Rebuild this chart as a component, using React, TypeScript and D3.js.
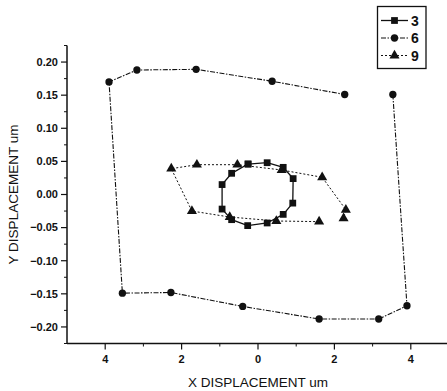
import React from "react";
import * as d3 from "d3";

const xTicks = [-4, -2, 0, 2, 4];
const xMinor = [-3, -1, 1, 3];
const yTicks = [-0.2, -0.15, -0.1, -0.05, 0, 0.05, 0.1, 0.15, 0.2];
const yMinor = [-0.225, -0.175, -0.125, -0.075, -0.025, 0.025, 0.075, 0.125, 0.175, 0.225];

const s3x = [-0.26, 0.24, 0.66, 0.92, 0.91, 0.66, 0.24, -0.27, -0.69, -0.94, -0.94, -0.69, -0.26];
const s3y = [0.046, 0.048, 0.041, 0.024, -0.013, -0.03, -0.043, -0.047, -0.038, -0.022, 0.015, 0.032, 0.046];

const s6x = [3.53, 3.9, 3.16, 1.6, -0.4, -2.28, -3.55, -3.9, -3.17, -1.62, 0.37, 2.27];
const s6y = [0.151, -0.168, -0.188, -0.188, -0.169, -0.148, -0.149, 0.17, 0.188, 0.189, 0.171, 0.151];

const s9x = [1.6, 0.48, -0.74, -1.73, -2.27, -1.6, -0.54, 0.62, 1.68, 2.3, 2.24];
const s9y = [-0.041, -0.04, -0.034, -0.025, 0.039, 0.045, 0.045, 0.037, 0.026, -0.023, -0.036];

const seriesNames = ["3", "6", "9"];

const W = 447;
const H = 391;
const INK = "#111";
const FONT = "Arial, 'Liberation Sans', sans-serif";

const x = d3.scaleLinear().domain([-5, 5]).range([67, 449]);
const y = d3.scaleLinear().domain([-0.225, 0.225]).range([343.5, 45.5]);

const line = d3
  .line<[number, number]>()
  .x((d) => x(d[0]))
  .y((d) => y(d[1]));

function zip(a: number[], b: number[]): [number, number][] {
  return a.map((v, i) => [v, b[i]]);
}

const sym = {
  square: d3.symbol().type(d3.symbolSquare).size(46)(),
  circle: d3.symbol().type(d3.symbolCircle).size(42)(),
  triangle: d3.symbol().type(d3.symbolTriangle).size(44)(),
};

const series = [
  { name: seriesNames[0], pts: zip(s3x, s3y), marker: sym.square, dash: "none", width: 1.3 },
  { name: seriesNames[1], pts: zip(s6x, s6y), marker: sym.circle, dash: "5,1.5,1.5,1.5", width: 1.1 },
  { name: seriesNames[2], pts: zip(s9x, s9y), marker: sym.triangle, dash: "2,2", width: 1.0 },
];

export default function App() {
  const fmtY = d3.format(".2f");
  const legendY = [20.5, 38, 55.5];
  return (
    <svg
      width={W}
      height={H}
      style={{ position: "absolute", left: 0, top: 0, background: "#fff" }}
      fontFamily={FONT}
    >
      <rect x={0} y={0} width={W} height={H} fill="#fff" />
      {/* axes lines */}
      <line x1={x(-5)} x2={x(-5)} y1={y(0.225)} y2={y(-0.225)} stroke={INK} strokeWidth={1.5} />
      <line x1={x(-5)} x2={W} y1={y(-0.225)} y2={y(-0.225)} stroke={INK} strokeWidth={1.5} />
      {/* y ticks */}
      {yTicks.map((t) => (
        <g key={"yt" + t}>
          <line x1={x(-5) - 6} x2={x(-5)} y1={y(t)} y2={y(t)} stroke={INK} strokeWidth={1.2} />
          <text
            x={x(-5) - 9}
            y={y(t)}
            dy="0.35em"
            textAnchor="end"
            fontSize={11}
            fontWeight="bold"
            fill={INK}
          >
            {fmtY(t)}
          </text>
        </g>
      ))}
      {yMinor.map((t) => (
        <line key={"ym" + t} x1={x(-5) - 3} x2={x(-5)} y1={y(t)} y2={y(t)} stroke={INK} strokeWidth={1} />
      ))}
      {/* x ticks */}
      {xTicks.map((t) => (
        <g key={"xt" + t}>
          <line x1={x(t)} x2={x(t)} y1={y(-0.225)} y2={y(-0.225) + 6} stroke={INK} strokeWidth={1.2} />
          <text x={x(t)} y={y(-0.225) + 19} textAnchor="middle" fontSize={11} fontWeight="bold" fill={INK}>
            {Math.abs(t)}
          </text>
        </g>
      ))}
      {xMinor.map((t) => (
        <line key={"xm" + t} x1={x(t)} x2={x(t)} y1={y(-0.225)} y2={y(-0.225) + 3} stroke={INK} strokeWidth={1} />
      ))}
      {/* axis titles */}
      <text x={x(0)} y={387} textAnchor="middle" fontSize={13.5} fill={INK}>
        X DISPLACEMENT um
      </text>
      <text
        transform={`translate(18,${y(0)}) rotate(-90)`}
        textAnchor="middle"
        fontSize={13.5}
        fill={INK}
      >
        Y DISPLACEMENT um
      </text>
      {/* series */}
      {series.map((s) => (
        <g key={"s" + s.name}>
          <path
            d={line(s.pts) || ""}
            fill="none"
            stroke={INK}
            strokeWidth={s.width}
            strokeDasharray={s.dash}
          />
          {s.pts.map((p, i) => (
            <path key={i} d={s.marker || ""} transform={`translate(${x(p[0])},${y(p[1])})`} fill={INK} />
          ))}
        </g>
      ))}
      {/* legend */}
      <rect x={377.5} y={6.5} width={48.5} height={62} fill="#fff" stroke={INK} strokeWidth={1.3} />
      {series.map((s, i) => (
        <g key={"lg" + s.name}>
          <line
            x1={381}
            x2={408}
            y1={legendY[i]}
            y2={legendY[i]}
            stroke={INK}
            strokeWidth={s.width}
            strokeDasharray={s.dash}
          />
          <path d={s.marker || ""} transform={`translate(394.5,${legendY[i]})`} fill={INK} />
          <text x={411} y={legendY[i]} dy="0.36em" fontSize={14} fontWeight="bold" fill={INK}>
            {s.name}
          </text>
        </g>
      ))}
    </svg>
  );
}
